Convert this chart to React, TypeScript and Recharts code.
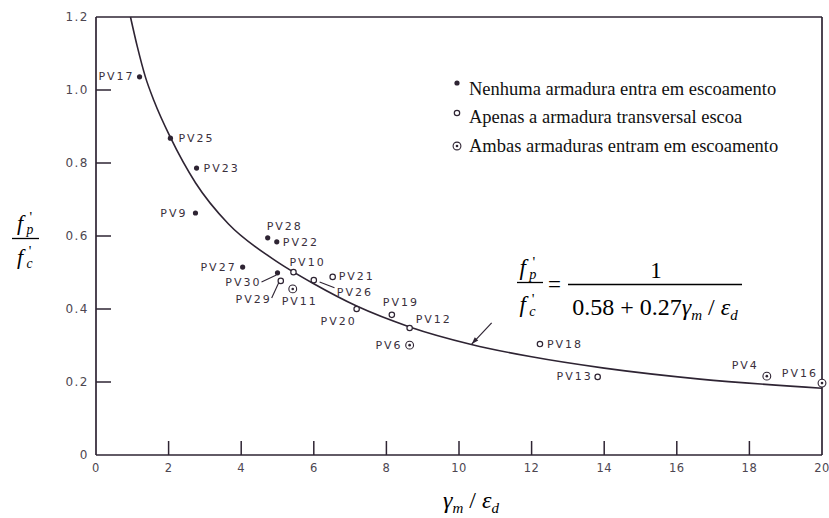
import React from "react";
import { ComposedChart, Line, Scatter, XAxis, YAxis, ReferenceLine, Legend } from "recharts";

const INK = "#2e2433";
const TICK_INK = "#4d4650";
const SERIF = "'Liberation Serif', 'Times New Roman', serif";
const GOTHIC = "'DejaVu Sans', sans-serif";

const W = 829;
const H = 518;
const MARGIN = { top: 17, right: 7, bottom: 33, left: 0 };
const Y_AXIS_W = 96;
const X_AXIS_H = 30;

// axis ticks
const xTicks = [0, 2, 4, 6, 8, 10, 12, 14, 16, 18, 20];
const xTickLabels = ["0", "2", "4", "6", "8", "10", "12", "14", "16", "18", "20"];
const yTicks = [0, 0.2, 0.4, 0.6, 0.8, 1.0, 1.2];
const yTickLabels = ["0", "0.2", "0.4", "0.6", "0.8", "1.0", "1.2"];
const xDomain = [0, 20];
const yDomain = [0, 1.2];

// Nenhuma armadura entra em escoamento (filled dots)
const nenhuma = [
  { name: "PV17", x: 1.2, y: 1.036 },
  { name: "PV25", x: 2.05, y: 0.868 },
  { name: "PV23", x: 2.77, y: 0.786 },
  { name: "PV9", x: 2.74, y: 0.663 },
  { name: "PV28", x: 4.73, y: 0.595 },
  { name: "PV22", x: 4.98, y: 0.584 },
  { name: "PV27", x: 4.04, y: 0.515 },
  { name: "PV30", x: 5.0, y: 0.499 },
];

// Apenas a armadura transversal escoa (open circles)
const apenas = [
  { name: "PV10", x: 5.44, y: 0.501 },
  { name: "PV29", x: 5.09, y: 0.477 },
  { name: "PV26", x: 6.0, y: 0.479 },
  { name: "PV21", x: 6.52, y: 0.488 },
  { name: "PV20", x: 7.18, y: 0.4 },
  { name: "PV19", x: 8.15, y: 0.384 },
  { name: "PV12", x: 8.64, y: 0.348 },
  { name: "PV18", x: 12.23, y: 0.304 },
  { name: "PV13", x: 13.82, y: 0.214 },
];

// Ambas armaduras entram em escoamento (double circles)
const ambas = [
  { name: "PV11", x: 5.42, y: 0.455 },
  { name: "PV6", x: 8.64, y: 0.301 },
  { name: "PV4", x: 18.48, y: 0.216 },
  { name: "PV16", x: 20.0, y: 0.197 },
];

// fitted curve
const curveX = [0.95, 1.14, 1.36, 1.6, 2.05, 2.74, 3.65, 4.86, 6.0, 7.18, 8.64, 10.34, 12, 14, 16.64, 20];
const curveY = [1.2, 1.118, 1.036, 0.97, 0.87, 0.746, 0.633, 0.538, 0.469, 0.408, 0.351, 0.303, 0.269, 0.238, 0.208, 0.183];
const curve = curveX.map((x, i) => ({ x, y: curveY[i] }));

const legendLabels = [
  "Nenhuma armadura entra em escoamento",
  "Apenas a armadura transversal escoa",
  "Ambas armaduras entram em escoamento",
];
const legendKinds = ["filled", "open", "double"];

// leader lines from labels to points
const leaders = [
  [{ x: 4.56, y: 0.474 }, { x: 4.97, y: 0.493 }],
  [{ x: 4.84, y: 0.43 }, { x: 5.03, y: 0.471 }],
  [{ x: 6.16, y: 0.474 }, { x: 6.57, y: 0.458 }],
];
const arrow = [{ x: 10.9, y: 0.362 }, { x: 10.35, y: 0.304 }];

// label offsets in px: dx, dy, anchor
const labelPos: Record<string, [number, number, "start" | "middle" | "end"]> = {
  PV17: [-5, 0, "end"],
  PV25: [8, 0, "start"],
  PV23: [7, 0, "start"],
  PV9: [-8, 0, "end"],
  PV28: [-1, -11, "start"],
  PV22: [6, 1, "start"],
  PV27: [-6, 0, "end"],
  PV30: [-16, 10, "end"],
  PV10: [-4, -10, "start"],
  PV29: [-9, 19, "end"],
  PV26: [23, 12, "start"],
  PV21: [6, 0, "start"],
  PV20: [-18, 12, "middle"],
  PV19: [9, -12, "middle"],
  PV12: [6, -8, "start"],
  PV18: [7, 0, "start"],
  PV13: [-5, 0, "end"],
  PV11: [7, 13, "middle"],
  PV6: [-7, 0, "end"],
  PV4: [-8, -11, "end"],
  PV16: [-4, -10, "end"],
};

const labelStyle: React.CSSProperties = {
  fontFamily: GOTHIC,
  fontSize: 11,
  letterSpacing: 2,
  fill: "#3a2f3c",
};

const Marker = ({ kind, cx, cy }: { kind: string; cx: number; cy: number }) => {
  if (kind === "filled") return <circle cx={cx} cy={cy} r={2.6} fill={INK} />;
  if (kind === "open") return <circle cx={cx} cy={cy} r={2.7} fill="#fff" stroke={INK} strokeWidth={1.2} />;
  return (
    <g>
      <circle cx={cx} cy={cy} r={3.9} fill="#fff" stroke={INK} strokeWidth={1.1} />
      <circle cx={cx} cy={cy} r={1.3} fill={INK} />
    </g>
  );
};

const pointShape = (kind: string) => (props: any) => {
  const { cx, cy, payload } = props;
  const [dx, dy, anchor] = labelPos[payload.name] ?? [6, 0, "start"];
  return (
    <g>
      <Marker kind={kind} cx={cx} cy={cy} />
      <text x={cx + dx} y={cy + dy} textAnchor={anchor} dominantBaseline="central" style={labelStyle}>
        {payload.name}
      </text>
    </g>
  );
};

const arrowShape = (props: any) => {
  const { x1, y1, x2, y2 } = props;
  const ang = Math.atan2(y2 - y1, x2 - x1);
  const len = 7;
  const w = 2.4;
  const bx = x2 - len * Math.cos(ang);
  const by = y2 - len * Math.sin(ang);
  const px = -Math.sin(ang) * w;
  const py = Math.cos(ang) * w;
  return (
    <g>
      <line x1={x1} y1={y1} x2={x2} y2={y2} stroke={INK} strokeWidth={1.2} />
      <polygon points={`${x2},${y2} ${bx + px},${by + py} ${bx - px},${by - py}`} fill={INK} />
    </g>
  );
};

const bulletTop = [8.5, 10, 14.5];

const renderLegend = () => (
  <div style={{ fontFamily: SERIF, fontSize: 18.5, color: "#111" }}>
    {legendLabels.map((label, i) => (
      <div key={label} style={{ position: "relative", height: 28.5, lineHeight: "28.5px", paddingLeft: 19, whiteSpace: "nowrap" }}>
        <svg width={14} height={14} style={{ position: "absolute", left: 0, top: bulletTop[i] - 7 }}>
          <Marker kind={legendKinds[i]} cx={7} cy={7} />
        </svg>
        {label}
      </div>
    ))}
  </div>
);

// f with prime and subscript, as one text element
const PrimeF = ({ x, y, sub, size }: { x: number; y: number; sub: string; size: number }) => (
  <text x={x} y={y} fontFamily={SERIF} fontSize={size} fontStyle="italic" fill="#000">
    f
    <tspan dx={size * 0.15} dy={size * 0.17} fontSize={size * 0.62}>
      {sub}
    </tspan>
    <tspan dx={-size * 0.17} dy={-size * 0.52} fontSize={size * 0.66} fontStyle="normal">
      '
    </tspan>
  </text>
);

// plot box, same numbers the chart is laid out with
const plotL = MARGIN.left + Y_AXIS_W;
const plotR = W - MARGIN.right;
const plotT = MARGIN.top;
const plotB = H - MARGIN.bottom - X_AXIS_H;
const sx = (v: number) => plotL + ((v - xDomain[0]) / (xDomain[1] - xDomain[0])) * (plotR - plotL);
const sy = (v: number) => plotB - ((v - yDomain[0]) / (yDomain[1] - yDomain[0])) * (plotB - plotT);

const Overlay = () => (
  <svg width={W} height={H} style={{ position: "absolute", left: 0, top: 0, pointerEvents: "none" }}>
    {/* inward tick marks */}
    {xTicks.slice(1, -1).map((v) => (
      <line key={`xt${v}`} x1={sx(v)} x2={sx(v)} y1={plotB} y2={plotB - 14} stroke={INK} strokeWidth={1.5} />
    ))}
    {yTicks.slice(1, -1).map((v) => (
      <line key={`yt${v}`} x1={plotL} x2={plotL + 15} y1={sy(v)} y2={sy(v)} stroke={INK} strokeWidth={1.5} />
    ))}

    {/* y axis label */}
    <PrimeF x={17} y={230} sub="p" size={22} />
    <line x1={12} x2={39} y1={238.5} y2={238.5} stroke="#000" strokeWidth={1.3} />
    <PrimeF x={17} y={264} sub="c" size={22} />

    {/* x axis label */}
    <text x={443} y={508} fontFamily={SERIF} fontSize={24} fill="#000">
      <tspan fontStyle="italic">γ</tspan>
      <tspan dy={5} fontSize={15} fontStyle="italic">m</tspan>
      <tspan dy={-5}>{" / "}</tspan>
      <tspan fontStyle="italic">ε</tspan>
      <tspan dy={5} fontSize={15} fontStyle="italic">d</tspan>
    </text>

    {/* fitted equation */}
    <PrimeF x={519.5} y={275} sub="p" size={23} />
    <line x1={517} x2={543} y1={282.5} y2={282.5} stroke="#000" strokeWidth={1.3} />
    <PrimeF x={519.5} y={312} sub="c" size={23} />
    <text x={548} y={292} fontFamily={SERIF} fontSize={23} fill="#000">
      =
    </text>
    <text x={656} y={278} fontFamily={SERIF} fontSize={23} textAnchor="middle" fill="#000">
      1
    </text>
    <line x1={568} x2={742} y1={284.5} y2={284.5} stroke="#000" strokeWidth={1.3} />
    <text x={655} y={315} fontFamily={SERIF} fontSize={24} textAnchor="middle" fill="#000">
      0.58 + 0.27
      <tspan fontStyle="italic">γ</tspan>
      <tspan dy={5} fontSize={15} fontStyle="italic">m</tspan>
      <tspan dy={-5}>{" / "}</tspan>
      <tspan fontStyle="italic">ε</tspan>
      <tspan dy={5} fontSize={15} fontStyle="italic">d</tspan>
    </text>
  </svg>
);

export default function App() {
  return (
    <div style={{ position: "absolute", left: 0, top: 0, width: W, height: H, background: "#fff" }}>
      <ComposedChart width={W} height={H} margin={MARGIN}>
        <XAxis
          type="number"
          dataKey="x"
          domain={xDomain}
          ticks={xTicks}
          interval={0}
          tickFormatter={(v: number) => xTickLabels[xTicks.indexOf(v)]}
          height={X_AXIS_H}
          tickSize={0}
          tickMargin={9}
          tickLine={false}
          axisLine={{ stroke: INK, strokeWidth: 1.7 }}
          tick={{ fill: TICK_INK, fontSize: 11.5, fontFamily: GOTHIC, letterSpacing: 0.5 }}
        />
        <YAxis
          type="number"
          domain={yDomain}
          ticks={yTicks}
          interval={0}
          tickFormatter={(v: number) => yTickLabels[yTicks.indexOf(v)]}
          width={Y_AXIS_W}
          tickSize={0}
          tickMargin={7}
          tickLine={false}
          axisLine={{ stroke: INK, strokeWidth: 1.7 }}
          tick={{ fill: TICK_INK, fontSize: 12, fontFamily: GOTHIC, letterSpacing: 1.5 }}
        />
        <ReferenceLine y={1.2} stroke={INK} strokeWidth={1.7} ifOverflow="visible" />
        <ReferenceLine x={20} stroke={INK} strokeWidth={1.7} ifOverflow="visible" />
        <Line data={curve} dataKey="y" type="monotone" stroke={INK} strokeWidth={1.6} dot={false} isAnimationActive={false} />
        {leaders.map((seg, i) => (
          <ReferenceLine key={i} segment={seg} stroke={INK} strokeWidth={1.1} ifOverflow="visible" />
        ))}
        <ReferenceLine segment={arrow} shape={arrowShape} ifOverflow="visible" />
        <Scatter name={legendLabels[0]} data={nenhuma} dataKey="y" shape={pointShape("filled")} isAnimationActive={false} />
        <Scatter name={legendLabels[1]} data={apenas} dataKey="y" shape={pointShape("open")} isAnimationActive={false} />
        <Scatter name={legendLabels[2]} data={ambas} dataKey="y" shape={pointShape("double")} isAnimationActive={false} />
        <Legend
          layout="vertical"
          align="center"
          verticalAlign="middle"
          content={renderLegend}
          wrapperStyle={{ left: 450, top: 74.5, width: 370 }}
        />
      </ComposedChart>
      <Overlay />
    </div>
  );
}
